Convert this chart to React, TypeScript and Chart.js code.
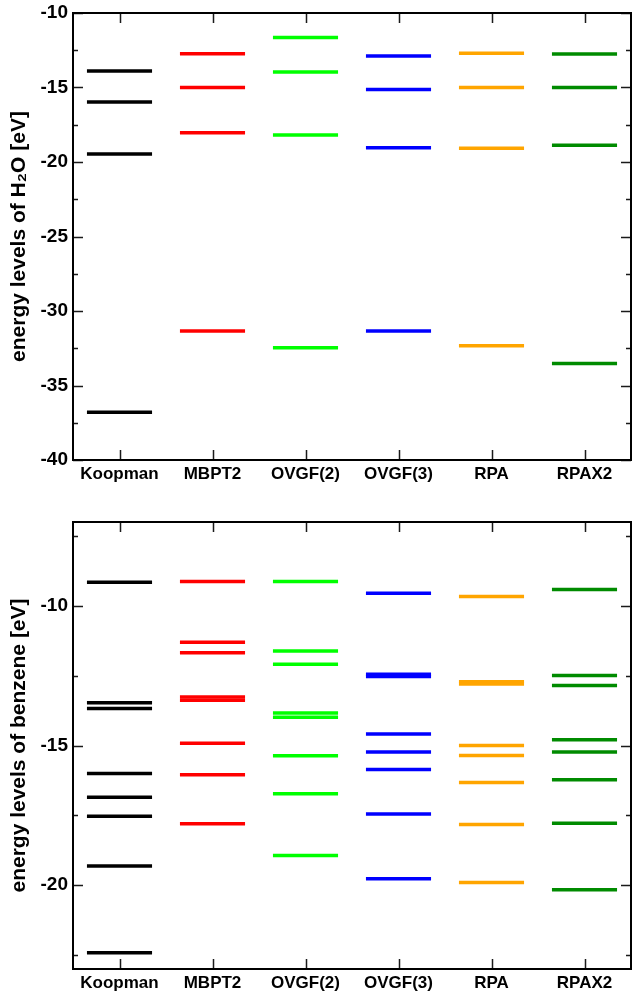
import React, { useEffect, useRef } from "react";
import { Chart, registerables } from "chart.js";

Chart.register(...registerables);

// ---------- data ----------
const methods = ["Koopman", "MBPT2", "OVGF(2)", "OVGF(3)", "RPA", "RPAX2"];
const methodColors = ["#000000", "#ff0000", "#00ff00", "#0000ff", "#ffa500", "#008b00"];

// H2O energy levels [eV]
const koopmanH2O = [-13.89, -15.97, -19.46, -36.8];
const mbpt2H2O = [-12.73, -15.0, -18.03, -31.35];
const ovgf2H2O = [-11.65, -13.96, -18.18, -32.47];
const ovgf3H2O = [-12.88, -15.14, -19.05, -31.35];
const rpaH2O = [-12.7, -15.0, -19.08, -32.33];
const rpax2H2O = [-12.75, -15.0, -18.88, -33.52];

// benzene energy levels [eV]
const koopmanBenz = [-9.16, -13.47, -13.68, -16.0, -16.85, -17.53, -19.31, -22.42];
const mbpt2Benz = [-9.13, -11.3, -11.68, -13.26, -13.38, -14.92, -16.05, -17.8];
const ovgf2Benz = [-9.13, -11.62, -12.09, -13.84, -13.99, -15.37, -16.73, -18.94];
const ovgf3Benz = [-9.55, -12.45, -12.53, -14.59, -15.23, -15.86, -17.45, -19.77];
const rpaBenz = [-9.67, -12.72, -12.8, -15.0, -15.36, -16.32, -17.83, -19.9];
const rpax2Benz = [-9.42, -12.49, -12.85, -14.79, -15.23, -16.23, -17.78, -20.16];

const h2oTicks = [-40, -35, -30, -25, -20, -15, -10];
const benzTicks = [-20, -15, -10];

const h2oLevels = [koopmanH2O, mbpt2H2O, ovgf2H2O, ovgf3H2O, rpaH2O, rpax2H2O];
const benzLevels = [koopmanBenz, mbpt2Benz, ovgf2Benz, ovgf3Benz, rpaBenz, rpax2Benz];

const FONT = "'Liberation Sans', Arial, Helvetica, sans-serif";

const framePlugin = {
  id: "frame",
  afterDatasetsDraw(chart: any) {
    const { ctx, chartArea, scales } = chart;
    const { left, right, top, bottom } = chartArea;
    const x = scales.x;
    const y = scales.y;
    ctx.save();
    ctx.strokeStyle = "#1a1a1a";
    ctx.lineWidth = 1.5;
    ctx.beginPath();
    for (let i = 0; i < methods.length; i++) {
      const px = Math.round(x.getPixelForValue(i)) + 0.5;
      ctx.moveTo(px, bottom);
      ctx.lineTo(px, bottom - 10);
      ctx.moveTo(px, top);
      ctx.lineTo(px, top + 10);
    }
    const step = 2.5;
    const start = Math.ceil(y.min / step) * step;
    for (let v = start; v <= y.max + 1e-9; v += step) {
      const py = Math.round(y.getPixelForValue(v)) + 0.5;
      const major = Math.abs(v / 5 - Math.round(v / 5)) < 1e-6;
      const len = major ? 10 : 5;
      ctx.moveTo(left, py);
      ctx.lineTo(left + len, py);
      ctx.moveTo(right, py);
      ctx.lineTo(right - len, py);
    }
    ctx.stroke();
    ctx.strokeStyle = "#000";
    ctx.lineWidth = 2;
    ctx.strokeRect(left, top, right - left, bottom - top);
    ctx.restore();
  },
};

const zeroPad = (s: any) => {
  s.paddingLeft = 0;
  s.paddingRight = 0;
  s.paddingTop = 0;
  s.paddingBottom = 0;
};

type PanelProps = {
  levels: number[][];
  yMin: number;
  yMax: number;
  ticks: number[];
  title: string;
  height: number;
  padTop: number;
  xHeight: number;
};

function Panel({ levels, yMin, yMax, ticks, title, height, padTop, xHeight }: PanelProps) {
  const ref = useRef<HTMLCanvasElement | null>(null);
  useEffect(() => {
    if (!ref.current) return;
    const datasets = methods.map((m, i) => ({
      label: m,
      data: levels[i].map((v) => ({ x: m, y: v })),
      showLine: false,
      pointStyle: "line" as const,
      pointRadius: (c: any) => (c.chart.chartArea ? (c.chart.chartArea.width / methods.length) * 0.35 : 32),
      pointHoverRadius: (c: any) => (c.chart.chartArea ? (c.chart.chartArea.width / methods.length) * 0.35 : 32),
      borderColor: methodColors[i],
      backgroundColor: methodColors[i],
      borderWidth: 3.5,
      pointBorderWidth: 3.5,
      clip: false,
    }));
    const chart = new Chart(ref.current, {
      type: "line",
      data: { labels: methods, datasets },
      plugins: [framePlugin],
      options: {
        animation: false,
        responsive: false,
        maintainAspectRatio: false,
        events: [],
        layout: { autoPadding: false, padding: { top: padTop, right: 1, left: 0, bottom: 0 } },
        plugins: { legend: { display: false }, tooltip: { enabled: false } },
        scales: {
          x: {
            type: "category",
            offset: true,
            grid: { display: false, drawTicks: false },
            border: { display: false },
            ticks: {
              color: "#000",
              padding: 4,
              font: { family: FONT, size: 17, weight: "bold" },
              maxRotation: 0,
              autoSkip: false,
            },
            afterFit: (s: any) => {
              s.height = xHeight;
              zeroPad(s);
            },
          },
          y: {
            type: "linear",
            min: yMin,
            max: yMax,
            grid: { display: false, drawTicks: false },
            border: { display: false },
            afterBuildTicks: (s: any) => {
              s.ticks = ticks.map((v) => ({ value: v }));
            },
            ticks: {
              color: "#000",
              padding: 5,
              font: { family: FONT, size: 19, weight: "bold" },
            },
            title: {
              display: true,
              text: title,
              color: "#000",
              padding: { top: 7, bottom: 0 },
              font: { family: FONT, size: 21, weight: "bold" },
            },
            afterFit: (s: any) => {
              s.width = 73;
              zeroPad(s);
            },
          },
        },
      },
    } as any);
    return () => chart.destroy();
  }, [levels, yMin, yMax, ticks, title, padTop, xHeight]);
  return (
    <div style={{ width: 632, height, position: "relative" }}>
      <canvas ref={ref} width={632} height={height} style={{ display: "block", width: 632, height }} />
    </div>
  );
}

export default function App() {
  return (
    <div style={{ position: "absolute", left: 0, top: 0, width: 632, height: 995, background: "#fff" }}>
      <Panel
        levels={h2oLevels}
        yMin={-40}
        yMax={-10}
        ticks={h2oTicks}
        title="energy levels of H₂O [eV]"
        height={497}
        padTop={13}
        xHeight={37}
      />
      <Panel
        levels={benzLevels}
        yMin={-23}
        yMax={-7}
        ticks={benzTicks}
        title="energy levels of benzene [eV]"
        height={498}
        padTop={25}
        xHeight={26}
      />
    </div>
  );
}
